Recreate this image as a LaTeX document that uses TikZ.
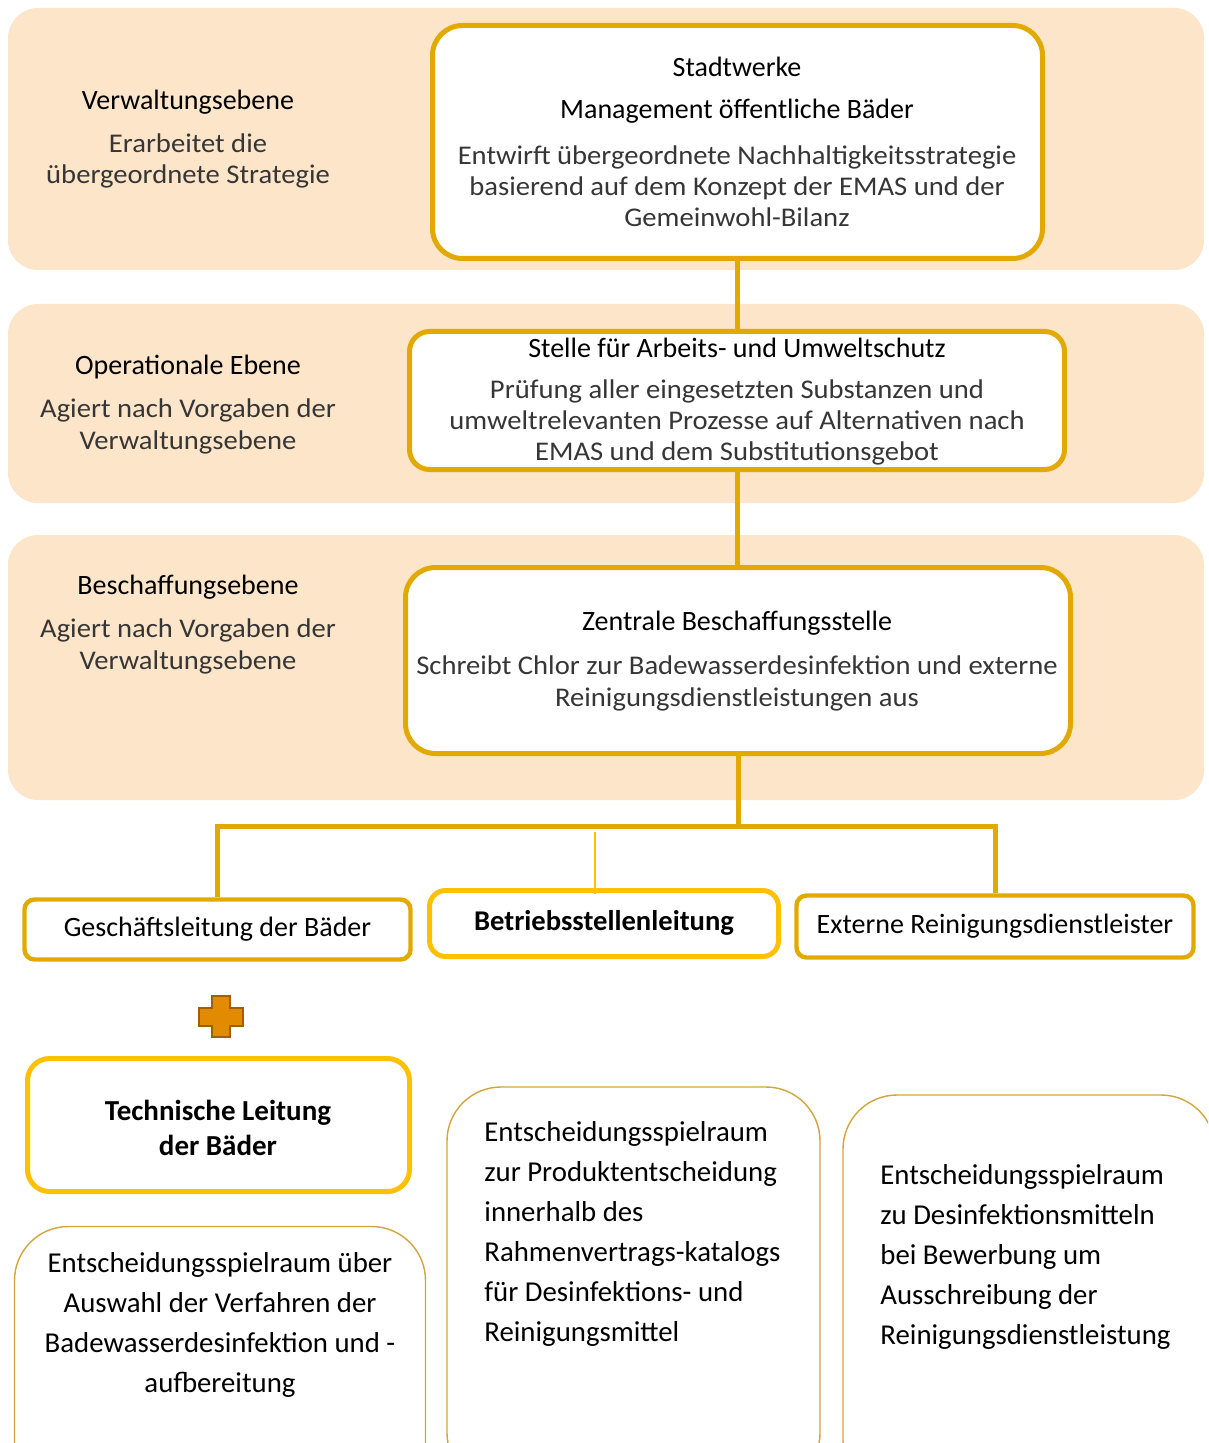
\documentclass[tikz,border=0pt]{standalone}
\usepackage{fontspec}
\setmainfont{Carlito}
\newfontfamily\lightface[FakeStretch=1.06]{Carlito}
\definecolor{band}{HTML}{FCE5C9}
\definecolor{gold}{HTML}{E2A900}
\definecolor{amber}{HTML}{FFC000}
\definecolor{thingold}{HTML}{D2A53A}
\definecolor{plusfill}{HTML}{E38B00}
\definecolor{plusedge}{HTML}{A25E00}
\definecolor{softtext}{HTML}{363636}
\begin{document}
\begin{tikzpicture}[x=0.5pt,y=-0.5pt,
  bandbox/.style={fill=band, rounded corners=15pt},
  goldbox/.style={draw=gold, line width=2.5pt, fill=white, rounded corners=15pt, inner sep=0pt},
  smallbox/.style={draw=gold, line width=2.2pt, fill=white, rounded corners=5pt, inner sep=0pt},
  amberbox/.style={draw=amber, line width=2.5pt, fill=white, rounded corners=8pt, inner sep=0pt},
  thinbox/.style={draw=thingold, line width=0.7pt, fill=white, rounded corners=27pt, inner sep=0pt},
  conn/.style={draw=gold, line width=2.5pt},
  thinconn/.style={draw=amber, line width=0.8pt},
  title/.style={font=\fontsize{14pt}{16pt}\selectfont, text=black, inner sep=0pt},
  body/.style={font=\lightface\fontsize{13.5pt}{15.6pt}\selectfont, text=softtext, inner sep=0pt, align=center},
  bigtext/.style={font=\fontsize{14.4pt}{20pt}\selectfont, text=black, inner sep=0pt},
  boldtext/.style={font=\fontsize{14.3pt}{17.5pt}\selectfont\bfseries, text=black, inner sep=0pt, align=center}
]
\useasboundingbox (0,0) rectangle (1208,1443);
\clip (0,0) rectangle (1208,1443);

% level bands
\fill[bandbox] (8,8) rectangle (1204,270);
\fill[bandbox] (8,304) rectangle (1204,503);
\fill[bandbox] (8,535) rectangle (1204,800);

% level labels
\node[title] (lvl1) at (188,102) {Verwaltungsebene};
\node[body] (lvl1d) at (188,161) {Erarbeitet die\\übergeordnete Strategie};
\node[title] (lvl2) at (188,367) {Operationale Ebene};
\node[body] (lvl2d) at (188,426.5) {Agiert nach Vorgaben der\\Verwaltungsebene};
\node[title] (lvl3) at (188,587) {Beschaffungsebene};
\node[body] (lvl3d) at (188,646.5) {Agiert nach Vorgaben der\\Verwaltungsebene};

% main chain
\node[goldbox, minimum width=305pt, minimum height=116.5pt] (strat) at (737.5,142) {};
\node[goldbox, rounded corners=10pt, minimum width=327.5pt, minimum height=69pt] (ops) at (737,400.5) {};
\node[goldbox, minimum width=332.5pt, minimum height=93pt] (proc) at (738,660.5) {};

\node[title] (stratA) at (737,67) {Stadtwerke};
\node[title] (stratB) at (737,111) {Management öffentliche Bäder};
\node[body] (stratC) at (737,186) {Entwirft übergeordnete Nachhaltigkeitsstrategie\\basierend auf dem Konzept der EMAS und der\\Gemeinwohl-Bilanz};

\node[title] (opsA) at (737,348) {Stelle für Arbeits- und Umweltschutz};
\node[body] (opsB) at (737,422.5) {Prüfung aller eingesetzten Substanzen und\\umweltrelevanten Prozesse auf Alternativen nach\\EMAS und dem Substitutionsgebot};

\node[title] (procA) at (737,623) {Zentrale Beschaffungsstelle};
\node[body, font=\lightface\fontsize{13.5pt}{16pt}\selectfont] (procB) at (737,683) {Schreibt Chlor zur Badewasserdesinfektion und externe\\Reinigungsdienstleistungen aus};

% operating units
\node[smallbox, minimum width=193pt, minimum height=30pt, font=\fontsize{14pt}{16pt}\selectfont] (gl) at (217.5,929.5) {Geschäftsleitung der Bäder};
\node[amberbox, minimum width=174.5pt, minimum height=33pt] (betr) at (604,923.5) {};
\node[boldtext] (betrT) at (604,923) {Betriebsstellenleitung};
\node[smallbox, minimum width=198.5pt, minimum height=31pt, font=\fontsize{14pt}{16pt}\selectfont] (ext) at (995,926.5) {Externe Reinigungsdienstleister};

% connectors
\draw[conn] (strat.south) -- (strat.south |- ops.north);
\draw[conn] (ops.south) -- (ops.south |- proc.north);
\coordinate (hub) at (738,826);
\draw[conn] (proc.south) -- (hub);
\draw[conn] (hub) -| (gl.north);
\draw[conn] (hub) -| (ext.north);
\coordinate (tap) at (595,832);
\draw[thinconn] (tap) -- ([yshift=-3pt]tap |- betr.north);

% plus sign
\draw[fill=plusfill, draw=plusedge, line width=1.4pt]
  (212,996) -- (230,996) -- (230,1008) -- (243,1008) -- (243,1026) -- (230,1026)
  -- (230,1037) -- (212,1037) -- (212,1026) -- (199,1026) -- (199,1008) -- (212,1008) -- cycle;

% technical management
\node[amberbox, rounded corners=11pt, minimum width=191pt, minimum height=66.5pt] (tech) at (218.5,1125) {};
\node[boldtext, font=\fontsize{14.5pt}{17.5pt}\selectfont\bfseries] (techT) at (218,1127.5) {Technische Leitung\\der Bäder};

% decision scopes
\node[thinbox, minimum width=205.5pt, minimum height=150pt] (scopeA) at (220,1376.5) {};
\node[bigtext, align=center] (scopeAT) at (220,1325) {Entscheidungsspielraum über\\Auswahl der Verfahren der\\Badewasserdesinfektion und -\\aufbereitung};

\node[thinbox, minimum width=186.5pt, minimum height=200pt] (scopeB) at (633.5,1287) {};
\node[bigtext, align=left, anchor=west] (scopeBT) at (484,1233.5) {Entscheidungsspielraum\\zur Produktentscheidung\\innerhalb des\\Rahmenvertrags-katalogs\\für Desinfektions- und\\Reinigungsmittel};

\node[thinbox, minimum width=186pt, minimum height=200pt] (scopeC) at (1029,1295) {};
\node[bigtext, align=left, anchor=west] (scopeCT) at (880,1257) {Entscheidungsspielraum\\zu Desinfektionsmitteln\\bei Bewerbung um\\Ausschreibung der\\Reinigungsdienstleistung};
\end{tikzpicture}
\end{document}
